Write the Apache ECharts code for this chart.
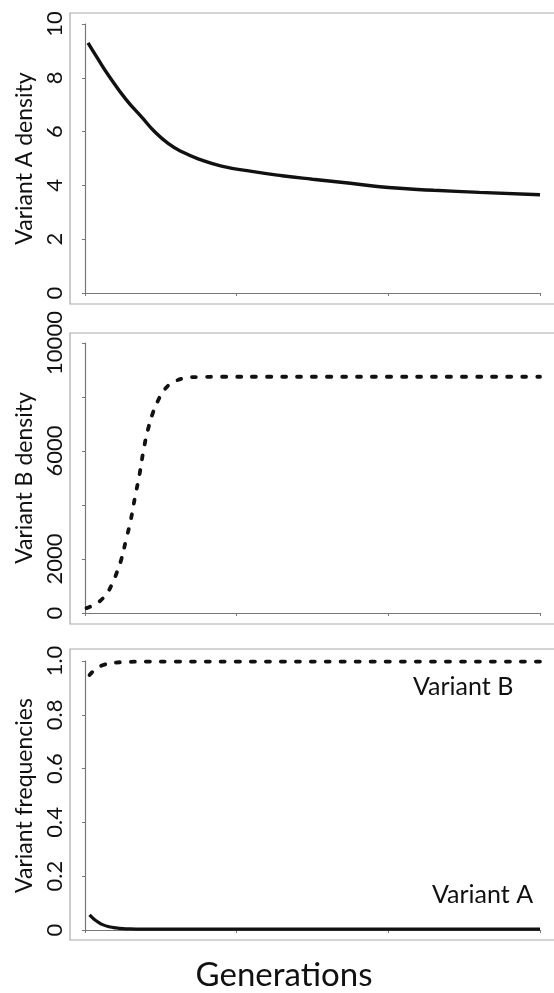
<!DOCTYPE html>
<html>
<head>
<meta charset="utf-8">
<script src="https://cdn.jsdelivr.net/npm/echarts@6/dist/echarts.min.js"></script>
<style>
html,body{margin:0;padding:0;background:#fff;}
#chart{width:554px;height:993px;}
</style>
</head>
<body>
<div id="chart"></div>
<script>
// ---- data ----
const genA  = [2, 8, 16, 27, 38, 45, 55, 65, 75, 90, 110, 130, 150, 175, 200, 230, 260, 300];
const densA = [9.3, 8.75, 8.05, 7.2, 6.5, 6.05, 5.55, 5.22, 4.98, 4.72, 4.52, 4.36, 4.23, 4.08, 3.92, 3.82, 3.74, 3.65];

const genB  = [1, 5, 10, 15, 18, 21, 24, 27, 30, 33, 36, 39, 42, 45, 48, 51, 55, 60, 66, 75, 90, 120, 160, 200, 250, 300];
const densB = [180, 280, 450, 780, 1100, 1500, 2000, 2700, 3400, 4300, 5150, 6150, 6900, 7450, 7850, 8150, 8430, 8600, 8700, 8740, 8750, 8750, 8750, 8750, 8750, 8750];

const genF  = [3, 6, 9, 12, 16, 20, 25, 30, 40, 60, 100, 200, 300];
const freqB = [0.948, 0.965, 0.977, 0.985, 0.991, 0.994, 0.996, 0.997, 0.998, 0.998, 0.998, 0.998, 0.998];
const freqA = [0.056, 0.040, 0.028, 0.019, 0.012, 0.008, 0.005, 0.004, 0.003, 0.003, 0.003, 0.003, 0.003];

const yTitles = ['Variant A density', 'Variant B density', 'Variant frequencies'];
const xTitle = 'Generations';
const labelA = 'Variant A';
const labelB = 'Variant B';

// ---- layout ----
const FONT = 'Lato, "Open Sans", sans-serif';
const grids = [
  {left: 85, width: 455, top: 24, height: 269},
  {left: 85, width: 455, top: 343, height: 270},
  {left: 85, width: 455, top: 661, height: 269}
];
const boxes = [
  {y: 13, h: 291},
  {y: 333, h: 291},
  {y: 649, h: 291}
];
const xOffsets = [11, 11, 10];

const zip = (xs, ys) => xs.map((x, i) => [x, ys[i]]);

const chart = echarts.init(document.getElementById('chart'), null, {renderer: 'canvas'});

const xAxes = grids.map((g, i) => ({
  type: 'value', gridIndex: i, min: 0, max: 300, interval: 100,
  offset: xOffsets[i],
  axisLine: {show: true, lineStyle: {color: '#777', width: 1.2}},
  axisTick: {show: true, length: 3, lineStyle: {color: '#777'}},
  axisLabel: {show: false},
  splitLine: {show: false}
}));

const yCommon = (i) => ({
  type: 'value', gridIndex: i, offset: 15,
  axisLine: {show: true, lineStyle: {color: '#777', width: 1.2}},
  axisTick: {show: true, length: 3, lineStyle: {color: '#777'}},
  splitLine: {show: false},
  name: yTitles[i],
  nameLocation: 'middle',
  nameRotate: 90,
  nameGap: 29,
  nameTextStyle: {fontFamily: FONT, fontSize: 23, color: '#111'},
  axisLabel: {rotate: 90, margin: 4, fontFamily: FONT, fontSize: 22, color: '#111'}
});

const yAxes = [
  Object.assign(yCommon(0), {min: 0, max: 10, interval: 2}),
  Object.assign(yCommon(1), {min: 0, max: 10000, interval: 2000}),
  Object.assign(yCommon(2), {min: 0, max: 1, interval: 0.2})
];
yAxes[1].axisLabel.formatter = v => (v === 4000 || v === 8000) ? '' : String(v);
yAxes[2].axisLabel.formatter = v => v === 0 ? '0' : v.toFixed(1);

const dotted = {color: '#111', width: 3.8, type: [4, 11], cap: 'round'};

const option = {
  animation: false,
  backgroundColor: '#fff',
  grid: grids,
  xAxis: xAxes,
  yAxis: yAxes,
  series: [
    {type: 'line', xAxisIndex: 0, yAxisIndex: 0, data: zip(genA, densA), smooth: 0.5,
     showSymbol: false, clip: false, lineStyle: {color: '#111', width: 3.4}},
    {type: 'line', xAxisIndex: 1, yAxisIndex: 1, data: zip(genB, densB), smooth: 0.5,
     showSymbol: false, clip: false, lineStyle: dotted},
    {type: 'line', xAxisIndex: 2, yAxisIndex: 2, data: zip(genF, freqB), smooth: 0.5,
     showSymbol: false, clip: false, lineStyle: dotted},
    {type: 'line', xAxisIndex: 2, yAxisIndex: 2, data: zip(genF, freqA), smooth: 0.5,
     showSymbol: false, clip: false, lineStyle: {color: '#111', width: 3.2}}
  ],
  graphic: boxes.map(b => ({
    type: 'rect', z: -1, silent: true,
    shape: {x: 70, y: b.y, width: 500, height: b.h},
    style: {fill: null, stroke: '#aaa', lineWidth: 1.2}
  })).concat([
    {type: 'text', x: 413, y: 687, style: {text: labelB, font: '25px ' + FONT, fill: '#111', textVerticalAlign: 'middle'}},
    {type: 'text', x: 432, y: 895, style: {text: labelA, font: '25px ' + FONT, fill: '#111', textVerticalAlign: 'middle'}},
    {type: 'text', x: 284, y: 975, style: {text: xTitle, font: '33px ' + FONT, fill: '#111', textAlign: 'center', textVerticalAlign: 'middle'}}
  ])
};
chart.setOption(option);
</script>
</body>
</html>
